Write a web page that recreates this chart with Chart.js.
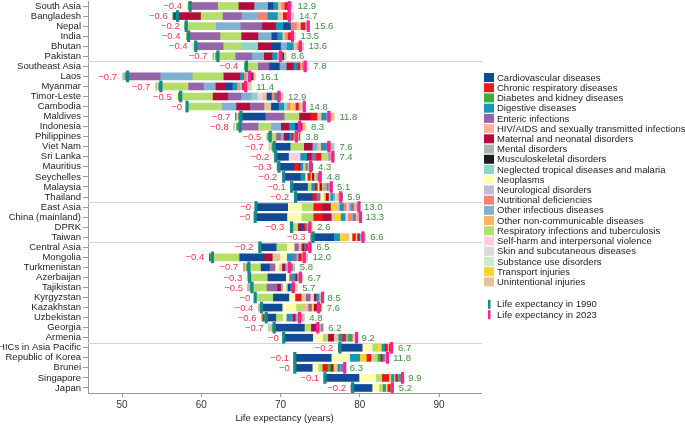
<!DOCTYPE html>
<html>
<head>
<meta charset="utf-8">
<script src="https://cdn.jsdelivr.net/npm/chart.js@4.4.1/dist/chart.umd.min.js"></script>
<style>
	html, body { margin: 0; padding: 0; background: #fff; }
	canvas { display: block; }
</style>
</head>
<body>
<canvas id="le_chart" width="685" height="425"></canvas>
<script>
// rows, top to bottom (groups: 6 / 14 / 4 / 10 / 5)
const rows = [
	'South Asia', 'Bangladesh', 'Nepal', 'India', 'Bhutan', 'Pakistan',
	'Southeast Asia', 'Laos', 'Myanmar', 'Timor-Leste', 'Cambodia', 'Maldives', 'Indonesia', 'Philippines', 'Viet Nam', 'Sri Lanka', 'Mauritius', 'Seychelles', 'Malaysia', 'Thailand',
	'East Asia', 'China (mainland)', 'DPRK', 'Taiwan',
	'Central Asia', 'Mongolia', 'Turkmenistan', 'Azerbaijan', 'Tajikistan', 'Kyrgyzstan', 'Kazakhstan', 'Uzbekistan', 'Georgia', 'Armenia',
	'HICs in Asia Pacific', 'Republic of Korea', 'Brunei', 'Singapore', 'Japan'
];
// index of the last row in each group but the last one
const group_ends = [5, 19, 23, 33];

const le_1990 = [
	58.6, 57.0, 58.1, 58.4, 59.3, 62.1,
	65.7, 50.7, 54.9, 57.4, 58.2, 65.0, 64.9, 68.7, 69.2, 69.4, 69.8, 70.4, 71.4, 71.9,
	66.9, 66.8, 71.4, 74.1,
	67.4, 61.4, 66.0, 66.1, 66.4, 66.8, 67.6, 68.2, 69.2, 70.4,
	77.5, 71.8, 71.8, 75.6, 79.1
];
// printed totals: years gained (green) and lost (red)
const gain = [
	12.9, 14.7, 15.6, 13.5, 13.6, 8.6,
	7.8, 16.1, 11.4, 12.9, 14.8, 11.8, 8.3, 3.8, 7.6, 7.4, 4.3, 4.8, 5.1, 5.9,
	13.0, 13.3, 2.6, 6.6,
	6.5, 12.0, 5.8, 6.7, 5.7, 8.5, 7.6, 4.8, 6.2, 9.2,
	6.7, 11.8, 6.3, 9.9, 5.2
];
const loss = [
	0.4, 0.6, 0.2, 0.4, 0.4, 0.7,
	0.4, 0.7, 0.7, 0.5, 0, 0.7, 0.8, 0.5, 0.7, 0.2, 0.3, 0.2, 0.1, 0.2,
	0, 0, 0.3, 0.3,
	0.2, 0.4, 0.7, 0.3, 0.5, 0, 0.4, 0.6, 0.7, 0,
	0.2, 0.1, 0, 0.1, 0.2
];

const causes = [
	'Cardiovascular diseases', 'Chronic respiratory diseases', 'Diabetes and kidney diseases',
	'Digestive diseases', 'Enteric infections', 'HIV/AIDS and sexually transmitted infections',
	'Maternal and neonatal disorders', 'Mental disorders', 'Musculoskeletal disorders',
	'Neglected tropical diseases and malaria', 'Neoplasms', 'Neurological disorders',
	'Nutritional deficiencies', 'Other infectious diseases', 'Other non-communicable diseases',
	'Respiratory infections and tuberculosis', 'Self-harm and interpersonal violence',
	'Skin and subcutaneous diseases', 'Substance use disorders', 'Transport injuries',
	'Unintentional injuries'
];
const cause_colors = [
	'#114b95', '#ec161c', '#3aae3e', '#1497b8', '#9565a8', '#fbb497', '#b10c3c',
	'#abb3b5', '#1c1c1c', '#8ed3c7', '#fdfdb4', '#bebada', '#fb8072', '#80b1d3',
	'#fdb462', '#b3de69', '#fccde5', '#d9d9d9', '#ccebc5', '#ffd426', '#e5c494'
];

// contribution of each cause to the change in life expectancy (years), per row
const cardiovascular = [
	0.6, -0.5, 0.85, 0.65, 1.05, 0.15,
	1.25, 0.15, 0.8, 0.55, 0.9, 3.05, 0.35, 0.3, 2.0, 1.6, 1.9, 2.1, 2.0, 2.1,
	4.0, 4.0, 0.3, 2.6,
	2.05, 3.05, 1.05, 2.25, 0.25, 1.95, 2.6, 1.2, 3.8, 3.65,
	2.8, 4.6, 2.2, 4.3, 2.45
];
const chronic_respiratory = [
	0.35, 0.5, 0.5, 0.3, 0.2, 0.2,
	0.3, 0.15, 0.3, 0.3, 0.3, 0.75, 0.2, 0.2, 0.25, 0.55, 0.55, 0.3, 0.3, 0.5,
	1.05, 1.1, 0.2, 0.35,
	0.15, 0.3, 0.2, 0.1, 0.15, 0.7, 0.05, -0.15, 0.05, 0.35,
	0.3, 0.5, 0.55, 0.8, 0.25
];
const diabetes_kidney = [
	-0.25, -0.1, -0.2, -0.25, -0.2, -0.3,
	-0.25, -0.3, -0.3, -0.3, 0, -0.35, -0.45, -0.3, -0.3, -0.15, -0.2, -0.1, -0.1, -0.1,
	0, 0, -0.15, -0.2,
	-0.1, -0.2, -0.3, -0.2, -0.25, 0, -0.2, -0.3, -0.2, 0.3,
	-0.05, 0.3, 0.4, 0.15, 0.15
];
const digestive = [
	0.6, 1.2, 0.95, 0.65, 0.75, 0.5,
	0.45, 0.4, 0.55, 0.35, 0.65, 0.55, 0.75, 0.3, 0.5, 0.75, 0.25, 0.6, 0.4, 0.25,
	0.45, 0.5, 0.15, 0.75,
	0.2, 0.65, 0.2, 0.3, 0.2, 0.25, 0.1, 0.4, 0.15, 0.5,
	0.4, 1.2, 0.25, 0.3, 0.3
];
const enteric = [
	3.45, 2.3, 2.65, 3.95, 3.45, 2.0,
	1.4, 4.1, 1.85, 1.6, 1.7, 2.4, 2.25, 0.5, 0.3, 0.6, 0.15, 0.1, 0.15, 0.5,
	0.25, 0.25, 0.2, 0.1,
	0.45, 0.45, 0.7, 0.4, 1.25, 0.5, 0.35, 0.35, 0.2, 0.2,
	0.05, 0.2, 0.15, 0.15, 0.05
];
const hiv_sti = [
	0.15, 0, 0, 0.1, 0.05, 0,
	0.05, 0.05, 0.1, 0.05, 0.35, 0.05, 0.05, -0.1, -0.1, 0, -0.05, -0.05, 0, -0.1,
	0.05, 0, 0, 0,
	0, 0.05, -0.1, 0, -0.05, 0, -0.05, 0, 0, 0,
	0, 0, 0, 0, 0
];
const maternal_neonatal = [
	1.9, 2.9, 1.8, 2.05, 1.75, 1.05,
	0.9, 2.1, 1.25, 1.9, 1.75, 1.45, 1.0, 0.35, 1.0, 0.65, 0.3, 0.2, 0.25, 0.3,
	1.05, 1.1, 0.35, 0.2,
	0.35, 1.05, 0.3, 0.25, 0.45, 0.3, 0.3, 0.3, 0.6, 0.65,
	0.1, 0.3, 0.35, 0.2, 0.05
];
const mental = [
	0, 0, 0, 0, 0, -0.1,
	0, -0.15, -0.1, 0, 0.05, -0.05, -0.05, 0.05, 0, 0, 0, 0, 0.05, 0.05,
	0.1, 0.1, 0, 0.05,
	-0.05, 0.05, -0.05, -0.05, -0.05, 0, -0.05, -0.05, -0.05, 0,
	0, 0, 0, 0, 0
];
const musculoskeletal = [
	0, 0, 0, 0, 0, 0,
	0, 0, 0, 0, 0, -0.05, 0, 0.05, 0, 0, 0.05, 0, 0, 0.05,
	0, 0, 0, -0.05,
	0, -0.05, -0.1, 0, -0.05, 0, 0, 0, 0, 0,
	-0.05, 0, 0, 0, -0.05
];
const ntd_malaria = [
	0.15, 0.35, 0.25, 0.2, 2.1, 0.1,
	0.1, 0.3, 0.35, 0.7, 0.4, 0.1, 0.1, 0.15, 0.1, 0.05, 0, 0.05, 0.1, 0.1,
	0.1, 0.1, 0.05, 0.05,
	0.05, 0.05, 0.05, 0.05, 0.1, 0.05, 0.05, 0.05, 0.05, 0.05,
	0.05, 0.1, 0, 0.05, 0
];
const neoplasms = [
	-0.15, 0, 0, -0.15, -0.1, -0.2,
	-0.15, 0, -0.2, -0.2, 0, -0.2, -0.2, 0, -0.2, 0, 0.1, 0.35, 0.3, 0.4,
	1.75, 1.8, -0.1, 0.4,
	0.95, 0.85, 0.5, 0.5, 0.3, 0.85, 1.75, 0.45, 0, 1.25,
	1.25, 2.4, 0.75, 2.1, 0.85
];
const neurological = [
	0, 0.1, 0, 0, 0, 0,
	0.1, -0.15, 0.05, 0.05, 0.1, 0.05, 0, 0.05, 0.05, 0.05, 0.05, 0.05, 0.05, 0.1,
	0.15, 0.15, 0, 0.1,
	0.05, 0.05, 0.05, 0.05, 0.05, 0.05, 0.05, 0.05, 0.15, 0.05,
	-0.1, 0, 0, -0.1, -0.15
];
const nutritional = [
	0.4, 1.25, 0.75, 0.35, 0.25, 0.3,
	0.2, 0.35, 0.4, 0.45, 0.4, 0.15, 0.15, 0.2, 0.15, 0.15, 0.05, 0.05, 0.1, 0.1,
	0.35, 0.35, 0.1, 0.05,
	0.05, 0.2, 0.1, 0.05, 0.2, 0.05, 0.05, 0.1, 0.05, 0.1,
	0.05, 0.1, 0.05, 0.05, 0
];
const other_infectious = [
	1.8, 2.1, 3.1, 1.75, 0.85, 1.6,
	0.95, 4.05, 1.6, 1.35, 1.8, 0.3, 1.25, 0.45, 0.6, 0.25, 0.15, 0.15, 0.2, 0.25,
	0.3, 0.3, 0.2, 0.15,
	0.15, 0.35, 0.25, 0.15, 0.35, 0.2, 0.1, 0.3, 0.1, 0.35,
	0.1, 0.2, 0.2, 0.2, 0.05
];
const other_ncd = [
	0.2, 0.2, 0.15, 0.15, 0.15, 0.1,
	0.15, 0.1, 0.15, 0.15, 0.3, 0.25, 0.1, 0.1, 0.15, 0.15, 0.1, 0.1, 0.1, 0.15,
	0.25, 0.25, 0, 0.1,
	0, 0.1, 0.05, 0, 0, 0.05, 0, 0.1, -0.2, 0,
	0, 0.1, 0.1, 0.05, 0
];
const respiratory_tb = [
	2.7, 2.85, 3.8, 2.75, 2.35, 2.25,
	1.5, 4.0, 3.5, 4.1, 4.45, 1.95, 1.7, 0.8, 1.8, 0.5, 0.2, 0.2, 0.55, 0.3,
	1.55, 1.6, 0.85, 0.3,
	1.4, 3.45, 1.55, 2.3, 1.9, 2.3, 0.95, 0.95, 0.9, 0.75,
	0.7, 0.4, 0.6, 0.85, 0.55
];
const self_harm = [
	0.1, 0.1, 0.1, 0.1, 0.1, 0.05,
	0.05, 0.05, 0.1, 0.65, 0.2, 0.05, 0.05, 0.1, 0.05, 1.55, 0.1, 0.1, 0.1, 0.2,
	0.35, 0.4, 0.05, 0.15,
	0.1, 0.15, 0.1, 0.05, 0.1, 0.5, 0.25, 0.2, 0.1, 0.15,
	0.1, -0.1, 0.1, 0.1, 0.05
];
const skin = [
	0, 0, 0, 0, 0, 0,
	0, 0, 0, 0, 0.05, -0.05, 0, 0, 0, 0, 0, 0, 0, 0,
	0.05, 0.05, 0, 0,
	0, -0.05, 0, 0, 0, 0, 0, 0, 0, 0,
	0, 0, 0, 0, 0
];
const substance_use = [
	0, 0, 0, 0, -0.1, -0.1,
	0, -0.1, -0.1, 0, 0.05, 0.05, -0.1, -0.1, -0.1, -0.05, -0.05, -0.05, 0, 0,
	0, 0, -0.05, -0.05,
	-0.05, -0.1, -0.15, -0.05, -0.1, 0, -0.1, -0.1, -0.1, 0,
	0, 0, 0, 0, 0
];
const transport = [
	0, 0.1, 0.1, 0.05, 0.05, 0.05,
	0.1, 0.05, 0.1, 0.1, 0.4, 0.05, 0.05, 0.05, 0.1, 0.1, 0.15, 0.25, 0.25, 0.35,
	0.6, 0.6, 0.05, 0.7,
	0.1, 0.15, 0.25, 0.05, 0.1, 0.1, 0.35, 0.1, 0.05, 0.2,
	0.55, 0.9, 0.3, 0.35, 0.3
];
const unintentional = [
	0.5, 0.75, 0.6, 0.45, 0.5, 0.25,
	0.3, 0.25, 0.3, 0.6, 0.95, 0.6, 0.3, 0.15, 0.55, 0.45, 0.2, 0.2, 0.2, 0.2,
	0.6, 0.65, 0.1, 0.55,
	0.45, 1.05, 0.45, 0.2, 0.3, 0.65, 0.65, 0.25, -0.15, 0.65,
	0.25, 0.5, 0.3, 0.25, 0.15
];

const cause_values = [
	cardiovascular, chronic_respiratory, diabetes_kidney, digestive, enteric, hiv_sti,
	maternal_neonatal, mental, musculoskeletal, ntd_malaria, neoplasms, neurological,
	nutritional, other_infectious, other_ncd, respiratory_tb, self_harm, skin,
	substance_use, transport, unintentional
];

const x_ticks = [50, 60, 70, 80, 90];

const FONT = '"Liberation Sans", Arial, Helvetica, sans-serif';
const MARK_1990 = '#16898b';
const MARK_2023 = '#ff1f8e';

Chart.defaults.font.family = FONT;
Chart.defaults.font.size = 9.5;

// gains stack rightwards from the 1990 marker, losses leftwards, largest first
function build_segments() {
	const segs = cause_values.map(() => rows.map(() => null));
	rows.forEach((row, i) => {
		const items = cause_values.map((vals, c) => ({c: c, v: vals[i]}));
		let right = le_1990[i];
		items.filter(d => d.v > 0).sort((a, b) => b.v - a.v).forEach(d => {
			segs[d.c][i] = [right, right + d.v];
			right += d.v;
		});
		let left = le_1990[i];
		items.filter(d => d.v < 0).sort((a, b) => a.v - b.v).forEach(d => {
			segs[d.c][i] = [left + d.v, left];
			left += d.v;
		});
	});
	return segs;
}

function marker(v) {
	return [v - 0.16, v + 0.16];
}

function format_loss(v) {
	return '\u2212' + (v === 0 ? '0' : v.toFixed(1));
}

const segs = build_segments();
const le_2023 = le_1990.map((v, i) => v + gain[i] - loss[i]);

const datasets = causes.map((name, c) => ({
	label: name,
	data: segs[c],
	backgroundColor: cause_colors[c],
	barThickness: 7,
	grouped: false,
	order: 2
}));
datasets.push({
	label: 'Life expectancy in 1990',
	data: le_1990.map(marker),
	backgroundColor: MARK_1990,
	barThickness: 11,
	grouped: false,
	order: 1
});
datasets.push({
	label: 'Life expectancy in 2023',
	data: le_2023.map(marker),
	backgroundColor: MARK_2023,
	barThickness: 11,
	grouped: false,
	order: 0
});

const annotate = {
	id: 'annotate',
	beforeDatasetsDraw(chart) {
		const {ctx, chartArea, scales: {y}} = chart;
		ctx.save();
		ctx.strokeStyle = '#d2d2d2';
		ctx.lineWidth = 1;
		group_ends.forEach(i => {
			const py = Math.round((y.getPixelForValue(i) + y.getPixelForValue(i + 1)) / 2) + 0.5;
			ctx.beginPath();
			ctx.moveTo(chartArea.left, py);
			ctx.lineTo(chartArea.right + 1, py);
			ctx.stroke();
		});
		ctx.restore();
	},
	afterDatasetsDraw(chart) {
		const {ctx, scales: {x, y}} = chart;
		ctx.save();
		ctx.font = '9.5px ' + FONT;
		ctx.textBaseline = 'middle';
		rows.forEach((row, i) => {
			const py = y.getPixelForValue(i) + 0.5;
			ctx.fillStyle = '#ff3346';
			ctx.textAlign = 'right';
			ctx.fillText(format_loss(loss[i]), x.getPixelForValue(le_1990[i] - loss[i]) - 5, py);
			ctx.fillStyle = '#3c8d3c';
			ctx.textAlign = 'left';
			ctx.fillText(gain[i].toFixed(1), x.getPixelForValue(le_1990[i] + gain[i]) + 5, py);
		});
		ctx.restore();
	},
	afterDraw(chart) {
		const ctx = chart.ctx;
		ctx.save();
		ctx.font = '9.5px ' + FONT;
		ctx.textBaseline = 'middle';
		ctx.textAlign = 'left';
		causes.forEach((name, c) => {
			const cy = 77.5 + c * 10.22;
			ctx.fillStyle = cause_colors[c];
			ctx.fillRect(484, cy - 4.5, 10, 9);
			ctx.fillStyle = '#222';
			ctx.fillText(name, 497, cy + 0.5);
		});
		[['Life expectancy in 1990', MARK_1990, 304.3], ['Life expectancy in 2023', MARK_2023, 314.7]].forEach(([name, col, cy]) => {
			ctx.fillStyle = col;
			ctx.fillRect(488, cy - 4.5, 2.5, 9);
			ctx.fillStyle = '#222';
			ctx.fillText(name, 497, cy + 0.5);
		});
		ctx.restore();
	}
};

new Chart(document.getElementById('le_chart'), {
	type: 'bar',
	data: {labels: rows, datasets: datasets},
	options: {
		indexAxis: 'y',
		responsive: false,
		animation: false,
		devicePixelRatio: 1,
		events: [],
		layout: {padding: {top: 1, right: 204, bottom: 0, left: 0}},
		plugins: {
			legend: {display: false},
			tooltip: {enabled: false}
		},
		scales: {
			x: {
				min: 45.7,
				max: 95.3,
				grid: {drawOnChartArea: false, tickLength: 4, color: '#9a9a9a'},
				border: {color: '#9a9a9a'},
				ticks: {color: '#333', font: {size: 10}, padding: 2},
				afterBuildTicks: s => { s.ticks = x_ticks.map(v => ({value: v})); },
				title: {display: true, text: 'Life expectancy (years)', color: '#222', font: {size: 9.5}, padding: {top: 1, bottom: 1}},
				afterFit: s => { s.height = 32; s.paddingLeft = 0; s.paddingRight = 0; }
			},
			y: {
				grid: {drawOnChartArea: false, offset: false, tickLength: 5, color: '#9a9a9a'},
				border: {color: '#9a9a9a'},
				ticks: {color: '#222', font: {size: 9.5}, padding: 2, autoSkip: false},
				afterFit: s => { s.width = 88; s.paddingTop = 0; s.paddingBottom = 0; }
			}
		}
	},
	plugins: [annotate]
});
</script>
</body>
</html>
